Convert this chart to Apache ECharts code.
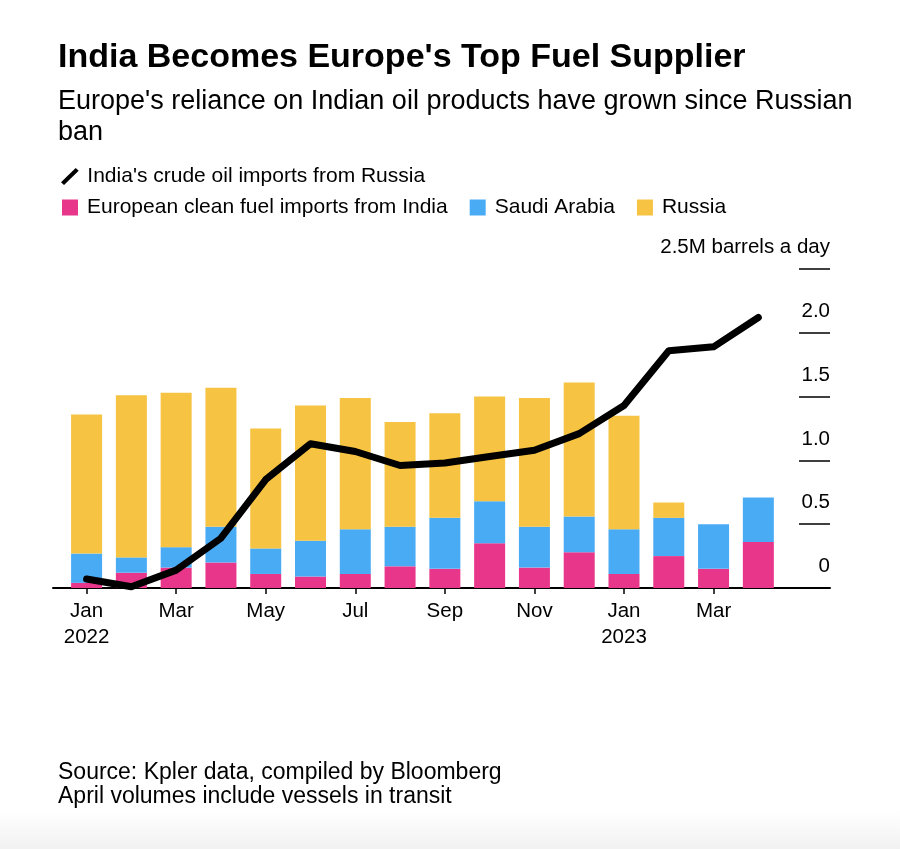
<!DOCTYPE html>
<html>
<head>
<meta charset="utf-8">
<script src="https://cdn.jsdelivr.net/npm/echarts@6/dist/echarts.min.js"></script>
<style>
html,body{margin:0;padding:0;width:900px;height:849px;overflow:hidden;
background:linear-gradient(to bottom,#ffffff 0px,#ffffff 812px,#f1f1f1 849px);}
#chart{width:900px;height:849px;}
</style>
</head>
<body>
<div id="chart"></div>
<script>
// Months Jan 2022 .. Apr 2023
var months = ['Jan\n2022','Feb','Mar','Apr','May','Jun','Jul','Aug','Sep','Oct','Nov','Dec','Jan\n2023','Feb','Mar','Apr'];
// European clean fuel imports (M barrels/day)
var india = [0.04,0.12,0.16,0.20,0.11,0.09,0.11,0.17,0.15,0.35,0.16,0.28,0.11,0.25,0.15,0.36];
var saudi = [0.23,0.12,0.16,0.28,0.20,0.28,0.35,0.31,0.40,0.33,0.32,0.28,0.35,0.30,0.35,0.35];
var russia = [1.09,1.27,1.21,1.09,0.94,1.06,1.03,0.82,0.82,0.82,1.01,1.05,0.89,0.12,0,0];
// India's crude oil imports from Russia
var crude = [0.07,0.01,0.14,0.39,0.85,1.13,1.07,0.96,0.98,1.03,1.08,1.21,1.43,1.86,1.89,2.12];
var tickIdx = [0,2,4,6,8,10,12,14];

var FONT = '"Liberation Sans", Arial, Helvetica, sans-serif';
var names = {
  line: "India's crude oil imports from Russia",
  india: 'European clean fuel imports from India',
  saudi: 'Saudi Arabia',
  russia: 'Russia'
};
// value first, month index second (encode maps them to y and x)
function pts(arr){ return arr.map(function(v,i){ return [v,i]; }); }

var chart = echarts.init(document.getElementById('chart'), null, {renderer:'canvas'});
var option = {
  backgroundColor: 'transparent',
  animation: false,
  title: [
    {text: 'India Becomes Europe\'s Top Fuel Supplier', left: 53, top: 36,
     textStyle:{fontFamily: FONT, fontWeight:'bold', fontSize: 34, color:'#000'}},
    {text: 'Europe\'s reliance on Indian oil products have grown since Russian\nban', left: 53, top: 81,
     textStyle:{fontFamily: FONT, fontWeight:'normal', fontSize: 27, color:'#000', lineHeight: 31}},
    {text: 'Source: Kpler data, compiled by Bloomberg\nApril volumes include vessels in transit', left: 53, top: 756,
     textStyle:{fontFamily: FONT, fontWeight:'normal', fontSize: 23, color:'#000', lineHeight: 24}}
  ],
  legend: [
    {data:[{name: names.line, icon:'path://M0,14 L14.5,0 L17.5,2.8 L3,16.8 Z'}], left: 56, top: 161,
     itemWidth: 19, itemHeight: 17,
     textStyle:{fontFamily: FONT, fontSize: 21, color:'#000', padding:[0,0,0,3]}},
    {data:[names.india, names.saudi, names.russia], left: 57, top: 192, icon:'rect',
     itemWidth: 16, itemHeight: 16, itemGap: 22,
     textStyle:{fontFamily: FONT, fontSize: 21, color:'#000', padding:[0,0,0,4]}}
  ],
  grid: {left: 53, right: 70, top: 269, bottom: 261, containLabel:false},
  xAxis: {
    type:'value', min: -0.75, max: 16.6,
    splitLine:{show:false},
    axisLine:{show:true, onZero:false, lineStyle:{color:'#000', width:2}},
    axisTick:{show:true, customValues: tickIdx, length: 6, lineStyle:{color:'#000', width:1.5}},
    axisLabel:{customValues: tickIdx, formatter:function(v){ return months[Math.round(v)]; },
      fontFamily: FONT, fontSize: 20.5, color:'#000', margin: 10, lineHeight: 26}
  },
  yAxis: {
    type:'value', position:'right', min:0, max:2.5, interval:0.5,
    splitLine:{show:false},
    axisLine:{show:false, onZero:false},
    axisTick:{show:true, inside:true, length:31, lineStyle:{color:'#000', width:1.5}},
    axisLabel:{inside:true, margin:0, align:'right', verticalAlign:'bottom', padding:[0,0,11,0],
      fontFamily: FONT, fontSize: 20.5, color:'#000',
      formatter:function(v){ if(v===0) return '0'; if(v===2.5) return '2.5M barrels a day'; return v.toFixed(1); }}
  },
  series: [
    {name: names.india, type:'bar', stack:'eu', data: pts(india), encode:{x:1, y:0}, barWidth: 31, itemStyle:{color:'#e8368a'}},
    {name: names.saudi, type:'bar', stack:'eu', data: pts(saudi), encode:{x:1, y:0}, barWidth: 31, itemStyle:{color:'#4aabf5'}},
    {name: names.russia, type:'bar', stack:'eu', data: pts(russia), encode:{x:1, y:0}, barWidth: 31, itemStyle:{color:'#f6c343'}},
    {name: names.line, type:'line', data: pts(crude), encode:{x:1, y:0}, showSymbol:false, symbol:'none',
     lineStyle:{color:'#000', width:7, join:'round', cap:'round'}, itemStyle:{color:'#000'}, z: 5}
  ]
};
chart.setOption(option);
</script>
</body>
</html>
